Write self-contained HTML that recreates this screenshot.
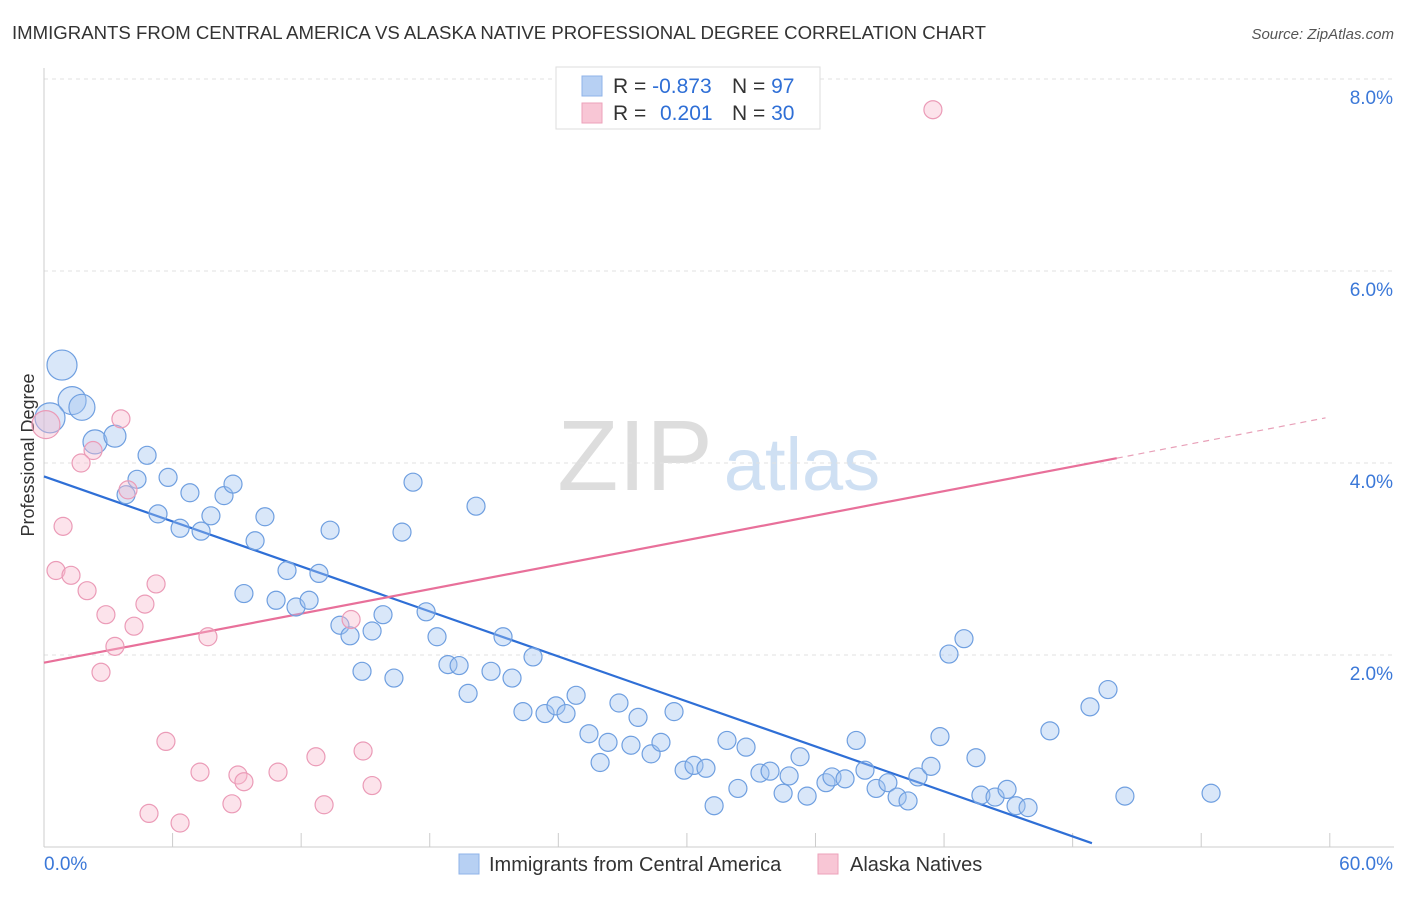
<!DOCTYPE html>
<html><head><meta charset="utf-8"><style>
body{margin:0;background:#fff;font-family:"Liberation Sans",sans-serif}
svg text{font-family:"Liberation Sans",sans-serif}
</style></head><body>
<svg id="chart" width="1406" height="892">
<text x="12" y="39" font-size="18.6" fill="#333">IMMIGRANTS FROM CENTRAL AMERICA VS ALASKA NATIVE PROFESSIONAL DEGREE CORRELATION CHART</text>
<text x="1394" y="39" font-size="15" fill="#555" font-style="italic" text-anchor="end">Source: ZipAtlas.com</text>
<text x="34" y="455" font-size="18" fill="#333" text-anchor="middle" transform="rotate(-90 34 455)">Professional Degree</text>
<g><text x="635" y="490" font-size="100" fill="#ddd" font-family="Liberation Serif" text-anchor="middle">ZIP</text><text x="802" y="490" font-size="74" fill="#cfe0f3" text-anchor="middle">atlas</text></g>
<g id="grid"></g><g id="lines"></g><g id="pts"></g>
<g>
<rect x="556" y="67" width="264" height="62" fill="#fff" stroke="#ddd"/>
<rect x="582" y="76" width="20" height="20" fill="#b7d0f3" stroke="#8fb3e8"/>
<rect x="582" y="103" width="20" height="20" fill="#f8c6d5" stroke="#eca2ba"/>
<text x="613" y="93" font-size="21" fill="#333">R = <tspan fill="#2f6fd6">-0.873</tspan><tspan x="732">N = </tspan><tspan fill="#2f6fd6">97</tspan></text>
<text x="613" y="120" font-size="21" fill="#333">R = <tspan x="660" fill="#2f6fd6">0.201</tspan><tspan x="732">N = </tspan><tspan fill="#2f6fd6">30</tspan></text>
</g>
<g>
<rect x="459" y="854" width="20" height="20" fill="#b7d0f3" stroke="#8fb3e8"/>
<text x="489" y="871" font-size="20" fill="#333">Immigrants from Central America</text>
<rect x="818" y="854" width="20" height="20" fill="#f8c6d5" stroke="#eca2ba"/>
<text x="850" y="871" font-size="20" fill="#333">Alaska Natives</text>
</g>
</svg>
<script>
const NS="http://www.w3.org/2000/svg";
const yTicks=[2,4,6,8];
const yTickLabels=["2.0%","4.0%","6.0%","8.0%"];
const xTickLabels=["0.0%","60.0%"];
const blueX=[0.84,1.31,1.77,0.28,2.38,3.31,4.81,4.34,5.79,3.83,6.81,8.4,8.82,5.32,6.35,7.79,7.33,10.31,9.85,13.35,17.22,20.16,16.706,9.33,11.34,12.83,10.83,11.76,12.37,13.81,14.28,15.31,15.82,17.83,18.34,14.84,16.33,18.85,19.37,19.79,20.86,21.42,21.84,22.82,22.35,23.38,23.89,24.36,24.83,25.43,25.95,26.32,26.83,27.39,27.72,28.33,28.79,29.4,29.87,30.33,30.89,31.27,31.87,32.38,32.76,33.41,33.88,34.49,34.77,35.28,35.61,36.49,36.77,37.38,37.9,38.31,38.83,39.38,39.81,40.32,40.78,41.39,41.81,42.23,42.93,43.49,43.72,44.38,44.94,45.36,45.92,46.94,48.81,49.65,50.44,54.46];
const blueY=[5.02,4.65,4.58,4.47,4.22,4.28,4.08,3.83,3.85,3.67,3.69,3.66,3.78,3.47,3.32,3.45,3.29,3.44,3.19,3.3,3.8,3.55,3.28,2.64,2.88,2.85,2.57,2.5,2.57,2.31,2.2,2.25,2.42,2.45,2.19,1.83,1.76,1.9,1.89,1.6,1.83,2.19,1.76,1.98,1.41,1.39,1.47,1.39,1.58,1.18,0.88,1.09,1.5,1.06,1.35,0.97,1.09,1.41,0.80,0.85,0.82,0.43,1.11,0.61,1.04,0.77,0.79,0.56,0.74,0.94,0.53,0.67,0.73,0.71,1.11,0.80,0.61,0.67,0.52,0.48,0.73,0.84,1.15,2.01,2.17,0.93,0.54,0.52,0.60,0.43,0.41,1.21,1.46,1.64,0.53,0.56];
const blueR=[15,14,13,15,12,11,9,9,9,9,9,9,9,9,9,9,9,9,9,9,9,9,9,9,9,9,9,9,9,9,9,9,9,9,9,9,9,9,9,9,9,9,9,9,9,9,9,9,9,9,9,9,9,9,9,9,9,9,9,9,9,9,9,9,9,9,9,9,9,9,9,9,9,9,9,9,9,9,9,9,9,9,9,9,9,9,9,9,9,9,9,9,9,9,9,9];
const pinkX=[0.09,3.59,2.29,1.73,3.92,0.89,0.56,1.26,2.01,5.23,2.89,4.71,4.2,3.31,7.65,2.66,14.33,5.69,7.28,9.05,9.33,10.92,12.69,14.89,8.77,13.07,4.9,6.35,15.31,41.48];
const pinkY=[4.4,4.46,4.13,4.0,3.72,3.34,2.88,2.83,2.67,2.74,2.42,2.53,2.30,2.09,2.19,1.82,2.37,1.10,0.78,0.75,0.68,0.78,0.94,1.00,0.45,0.44,0.35,0.25,0.64,7.68];
const pinkR=[14,9,9,9,9,9,9,9,9,9,9,9,9,9,9,9,9,9,9,9,9,9,9,9,9,9,9,9,9,9];
const blueTrend=[[0,3.86],[48.9,0.04]];
const pinkTrend=[[0,1.92],[50.06,4.05],[59.8,4.47]];
const X=v=>44+v*21.43, Y=v=>847-v*96;
function mk(t,a,p){const e=document.createElementNS(NS,t);for(const k in a)e.setAttribute(k,a[k]);p.appendChild(e);return e;}
const grid=document.getElementById('grid');
yTicks.forEach((t,i)=>{
  const l=mk('line',{x1:44,x2:1394,y1:Y(t),y2:Y(t),stroke:'#e2e2e2','stroke-dasharray':'4,4'},grid);
  
  
  const tx=mk('text',{x:1393,y:Y(t)+25,'font-size':19,fill:'#3b78d8','text-anchor':'end'},grid);tx.textContent=yTickLabels[i];
  
  
});
mk('line',{x1:44,x2:44,y1:68,y2:847,stroke:'#ccc'},grid);
mk('line',{x1:44,x2:1394,y1:847,y2:847,stroke:'#ccc'},grid);
for(let i=1;i<=10;i++){const xx=X(i*6);const t=mk('line',{x1:xx,x2:xx,y1:833,y2:847,stroke:'#ccc'},grid);
  
  }
[[0,44,'start'],[1,1393,'end']].forEach(([i,x,a])=>{const t=mk('text',{x:x,y:870,'font-size':19,fill:'#3b78d8','text-anchor':a},grid);t.textContent=xTickLabels[i];
  
  });
const pts=document.getElementById('pts');
blueX.forEach((x,i)=>{const c=mk('circle',{cx:X(x),cy:Y(blueY[i]),r:blueR[i]||9,fill:'rgba(160,196,240,0.4)',stroke:'#6f9fe0','stroke-width':1.2},pts);
  
  });
pinkX.forEach((x,i)=>{const c=mk('circle',{cx:X(x),cy:Y(pinkY[i]),r:pinkR[i]||9,fill:'rgba(247,185,205,0.4)',stroke:'#eb9bb7','stroke-width':1.2},pts);
  
  });
const lines=document.getElementById('lines');
const bl=mk('line',{x1:X(blueTrend[0][0]),y1:Y(blueTrend[0][1]),x2:X(blueTrend[1][0]),y2:Y(blueTrend[1][1]),stroke:'#2f6fd6','stroke-width':2.2},lines);


const pl=mk('line',{x1:X(pinkTrend[0][0]),y1:Y(pinkTrend[0][1]),x2:X(pinkTrend[1][0]),y2:Y(pinkTrend[1][1]),stroke:'#e8709a','stroke-width':2.2},lines);


const pd=mk('line',{x1:X(pinkTrend[1][0]),y1:Y(pinkTrend[1][1]),x2:X(pinkTrend[2][0]),y2:Y(pinkTrend[2][1]),stroke:'#e8a0b8','stroke-width':1.2,'stroke-dasharray':'6,5'},lines);


</script>
</body></html>
